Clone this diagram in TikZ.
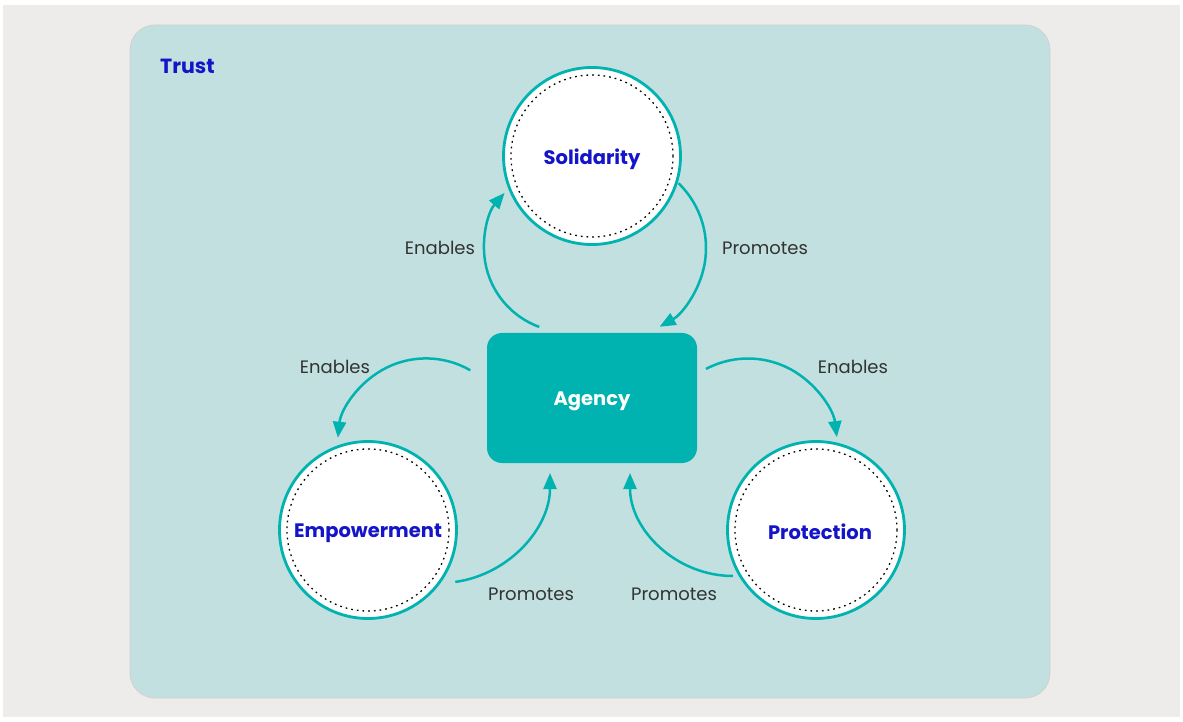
\documentclass[tikz,border=0pt]{standalone}
\usepackage{fontspec}
\setmainfont{Poppins}
\usetikzlibrary{arrows.meta}
\definecolor{tealc}{HTML}{00B2B0}
\definecolor{panelc}{HTML}{C1E0DF}
\definecolor{outerc}{HTML}{EDECEA}
\definecolor{bluec}{HTML}{1414C8}
\definecolor{labelc}{HTML}{333333}
\tikzset{
  circ/.style={circle, draw=tealc, line width=2.8pt, fill=white, minimum size=177pt, inner sep=0pt,
    text=bluec, font=\fontsize{19.5}{22}\selectfont\bfseries, text height=14pt, text depth=0pt},
  agencybox/.style={rectangle, rounded corners=15pt, fill=tealc, minimum width=210pt, minimum height=130pt,
    text=white, font=\fontsize{19.5}{22}\selectfont\bfseries, text height=14pt, text depth=0pt},
  titletext/.style={text=bluec, font=\fontsize{20.5}{24}\selectfont\bfseries, inner sep=0pt},
  lbl/.style={text=labelc, font=\fontsize{18}{21}\selectfont, inner sep=0pt},
  conn/.style={draw=tealc, line width=2.5pt, -{Triangle[length=16pt,width=13pt]}},
  dotring/.style={draw=black, line width=1.3pt, dash pattern=on 1.7pt off 4pt},
}
\begin{document}
\begin{tikzpicture}[x=1pt,y=1pt]
\useasboundingbox (0,0) rectangle (1183,721);
\fill[white] (0,0) rectangle (1183,721);
\fill[outerc] (3,4) rectangle (1180,716);
\draw[draw=black!18, fill=panelc, line width=0.8pt, rounded corners=25pt] (130,23) rectangle (1050,696);

\node[titletext, anchor=west] (trust) at (160,655) {Trust};

\node[circ, text height=17pt] (sol) at (592,565) {Solidarity};
\node[circ] (emp) at (368,191) {Empowerment};
\node[circ, text height=19pt] (pro) at (816,191) {\hspace*{8pt}Protection};
\node[agencybox] (ag) at (592,323) {Agency};

\draw[dotring] (sol.center) circle[radius=81];
\draw[dotring] (emp.center) circle[radius=81];
\draw[dotring] (pro.center) circle[radius=81];

\coordinate (c1) at (568,473);
\coordinate (c2) at (616,473);
\coordinate (c3) at (426,274);
\coordinate (c4) at (748,273);
\coordinate (c5) at (440,248);
\coordinate (c6) at (733,248);

\draw[conn] ([shift={(250:84)}]c1) arc[start angle=250, end angle=139, radius=84];
\draw[conn] ([shift={(46:90)}]c2) arc[start angle=46, end angle=-61, radius=90];
\draw[conn] ([shift={(60:88.6)}]c3) arc[start angle=60, end angle=174, radius=88.6];
\draw[conn] ([shift={(118:89.5)}]c4) arc[start angle=118, end angle=7, radius=89.5];
\draw[conn] ([shift={(-82:110)}]c5) arc[start angle=-82, end angle=0, radius=110];
\draw[conn] ([shift={(270:103)}]c6) arc[start angle=270, end angle=180, radius=103];

\node[lbl] (l1) at (440,473) {Enables};
\node[lbl] (l2) at (765,473) {Promotes};
\node[lbl] (l3) at (335,354) {Enables};
\node[lbl] (l4) at (853,354) {Enables};
\node[lbl] (l5) at (531,127) {Promotes};
\node[lbl] (l6) at (674,127) {Promotes};
\end{tikzpicture}
\end{document}
